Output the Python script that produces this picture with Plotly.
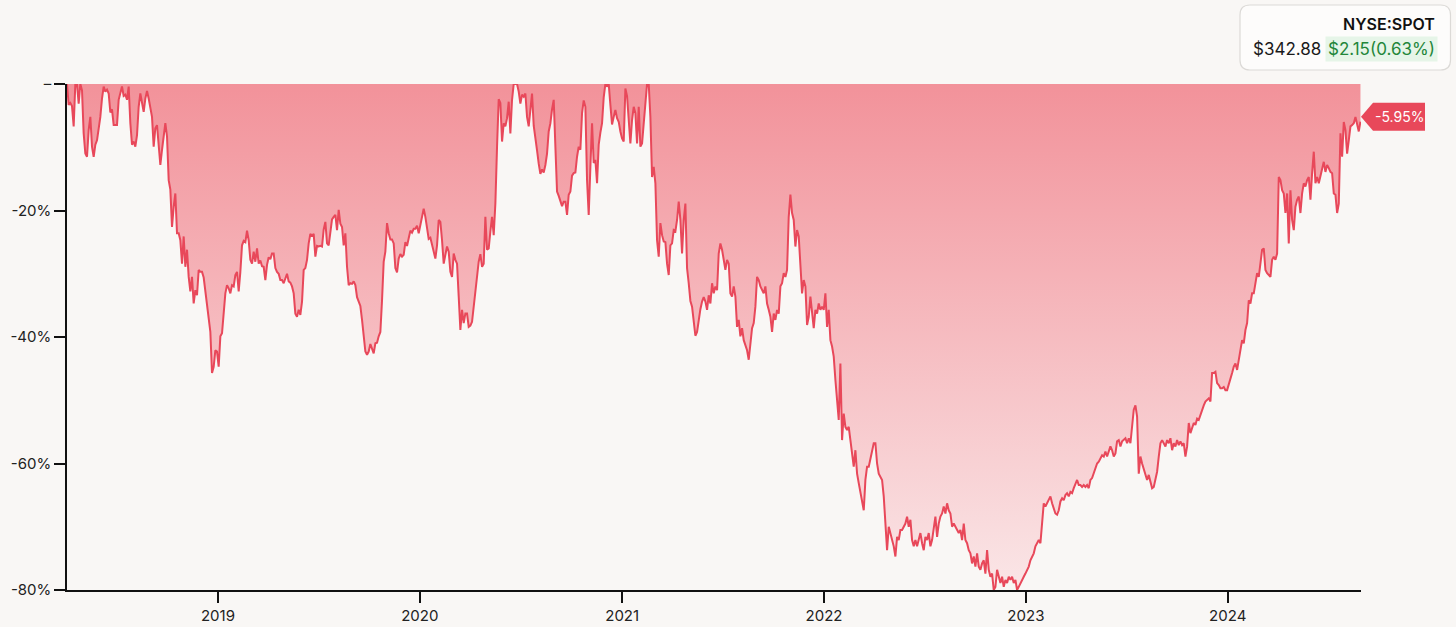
import pandas as pd
import plotly.graph_objects as go

# ---------------- data ----------------
ticker = "NYSE:SPOT"
last_price = "$342.88"
day_change = "$2.15(0.63%)"
last_drawdown_label = "-5.95%"
start_date = "2018-04-03"
end_date = "2024-08-28"

# drawdown from running peak, in percent (~every 3 days)
dd_part1 = [
    0, -3.3, -3.0, -3.5, -6.7, 0, 0, -3.1, 0, -1.0,
    -7.8, -11.0, -11.5, -7.3, -5.2, -9.9, -11.5, -9.6, -8.9, -7.3,
    -5.2, -2.3, -0.4, -1.2, -0.9, -1.5, -4.5, -4.0, -6.5, -6.5,
    -6.5, -2.5, -1.2, -0.4, -1.9, -1.7, -2.5, -0.4, -6.2, -9.6,
    -9.1, -9.9, -8.1, -3.6, -1.5, -3.1, -4.4, -2.3, -1.1, -2.3,
    -3.8, -5.2, -9.9, -7.0, -6.5, -9.9, -12.8, -10.4, -8.1, -6.2,
    -8.3, -15.2, -16.7, -22.6, -19.4, -17.3, -23.6, -23.6, -24.7, -28.4,
    -24.1, -28.9, -26.2, -30.5, -32.8, -30.5, -34.7, -32.6, -33.4, -29.4,
    -29.7, -29.7, -30.6, -32.6, -35.0, -36.9, -39.2, -45.7, -44.7, -42.1,
    -42.3, -44.7, -39.9, -39.4, -36.8, -33.1, -31.8, -32.3, -33.1, -31.8,
    -32.0, -30.2, -29.7, -32.8, -29.7, -25.5, -24.8, -25.0, -23.2, -24.7,
    -27.8, -28.4, -26.5, -28.1, -26.0, -28.4, -27.9, -28.8, -28.9, -31.0,
    -28.6, -27.4, -27.7, -26.8, -26.8, -29.1, -29.7, -30.0, -31.0, -31.0,
    -31.5, -30.7, -30.0, -31.2, -31.4, -32.0, -33.1, -36.3, -36.8, -35.7,
    -36.5, -34.4, -29.4, -29.1, -27.8, -25.2, -23.7, -24.0, -23.7, -27.3,
    -25.6, -25.7, -25.6, -25.7, -23.0, -21.8, -25.2, -25.5, -23.1, -21.4,
    -21.0, -20.7, -23.1, -19.9, -22.1, -22.6, -25.5, -23.6, -28.9, -31.8,
    -31.5, -31.6, -31.2, -31.8, -33.7, -34.4, -35.1, -37.3, -39.7, -42.3,
    -42.8, -42.3, -41.1, -41.8, -42.6, -41.0, -40.9, -39.9, -39.2, -34.2,
    -28.1,
]
dd_part2 = [
    -26.5, -22.0, -23.6, -24.6, -24.6, -25.2, -29.1, -29.8, -27.6, -26.9,
    -27.3, -27.0, -25.0, -25.6, -24.4, -23.2, -23.5, -22.9, -22.9, -22.4,
    -23.6, -22.3, -21.0, -19.7, -21.0, -23.2, -24.5, -24.3, -25.2, -26.5,
    -27.6, -25.5, -21.5, -21.8, -24.7, -28.4, -27.0, -25.7, -26.5, -29.7,
    -30.5, -26.8, -27.8, -28.4, -33.6, -38.9, -35.7, -37.8, -36.3, -36.3,
    -38.4, -38.2, -37.6, -35.1, -33.6, -31.0, -28.1, -26.9, -28.9, -28.4,
    -21.0, -26.2, -26.0, -23.3, -21.0, -23.9, -18.9, -9.9, -2.4, -3.0,
    -9.1, -6.2, -6.7, -5.4, -2.8, -7.8, -2.5, 0, 0, 0,
    -1.2, -3.1, -1.7, -2.0, -1.5, -5.2, -6.7, -4.1, -1.5, -6.6,
    -8.3, -10.5, -12.6, -14.2, -13.5, -14.0, -12.8, -11.0, -7.5, -6.2,
    -4.0, -2.5, -9.9, -17.0, -17.7, -18.5, -19.3, -18.6, -18.6, -20.7,
    -17.5, -17.0, -14.5, -14.1, -14.0, -11.5, -9.9, -10.4, -4.6, -2.6,
    -3.6, -15.2, -20.7, -13.1, -6.2, -12.5, -12.0, -15.7, -9.6, -7.7,
    -6.2, -2.1, 0, -0.3, 0, -3.3, -6.4, -5.2, -4.1, -5.4,
    -6.0, -7.5, -8.6, -9.1, -0.7, -1.9, -5.2, -9.4, -5.7, -3.6,
    -4.6, -9.4, -3.6, -9.9, -9.4, -6.2, -4.1, 0, 0, -5.2,
    -14.7, -13.1, -15.7, -24.7, -27.3, -22.0, -23.9, -24.9, -25.0, -28.4,
    -30.2, -25.5, -25.2, -23.1, -23.3, -21.5, -18.6, -21.5, -26.8, -21.5,
    -18.9, -29.1, -31.5, -34.3, -35.2, -37.8, -39.8, -39.2, -37.1, -35.6,
    -34.4, -33.7, -34.4, -35.7, -33.4,
]
dd_part3 = [
    -34.7, -31.5, -33.1, -32.0, -32.6, -26.8, -25.2, -26.2, -27.8, -29.4,
    -27.8, -28.4, -33.1, -33.6, -32.0, -33.6, -38.4, -37.3, -39.9, -38.6,
    -40.5, -41.5, -42.1, -43.6, -40.5, -38.6, -37.8, -35.2, -30.5, -31.0,
    -32.0, -32.6, -33.1, -32.0, -34.7, -35.7, -36.8, -39.2, -36.3, -37.3,
    -35.7, -36.3, -32.0, -31.5, -29.9, -30.5, -29.4, -21.0, -17.5, -20.4,
    -21.5, -25.7, -23.1, -24.1, -27.8, -33.1, -31.0, -32.0, -38.1, -36.8,
    -33.6, -36.3, -38.6, -35.7, -36.3, -34.7, -35.7, -35.2, -35.7, -33.1,
    -38.4, -35.7, -40.5, -41.5, -43.1, -46.8, -49.4, -53.1, -44.2, -56.3,
    -52.1, -54.2, -54.7, -54.2, -56.3, -58.4, -60.5, -57.9, -61.6, -63.1,
    -64.7, -65.8, -67.4, -62.6, -60.5, -60.5, -59.4, -58.4, -56.8, -56.8,
    -60.0, -61.6, -62.1, -62.6, -65.2, -69.5, -73.7, -70.0, -71.0, -72.1,
    -73.1, -74.7, -71.6, -72.1, -70.5, -70.5, -70.0, -69.5, -68.4, -70.0,
    -68.9, -72.1, -73.1, -72.1, -73.1, -72.1, -71.0, -72.6, -73.7, -71.6,
    -72.1, -71.0, -73.1, -72.1, -70.5, -68.4, -71.6, -69.5, -68.4, -67.9,
    -66.8, -67.9, -66.3, -67.4, -67.9, -70.0, -69.5, -70.0, -70.5, -71.0,
    -70.5, -72.1, -69.5, -72.1, -72.6, -73.7, -74.2, -75.8, -74.7, -76.3,
    -74.2, -76.3, -76.8, -75.8, -75.3, -77.4, -73.7, -76.8, -77.9, -77.4,
    -80.0, -79.5, -76.8, -77.9, -78.9, -77.9, -79.5, -78.4, -78.9, -77.9,
    -78.4, -77.9, -78.9, -78.4, -80.0, -79.5, -78.9, -78.4, -77.9, -77.4,
    -76.8, -76.3,
]
dd_part4 = [
    -75.3, -74.7, -74.2, -73.1, -72.6, -72.1, -72.6, -69.5, -66.3, -66.8,
    -66.3, -65.8, -65.2, -66.3, -67.1, -67.9, -68.1, -67.4, -66.0, -65.5,
    -65.8, -65.0, -64.7, -65.2, -64.5, -64.7, -63.9, -63.1, -62.6, -63.4,
    -63.4, -63.7, -63.4, -63.7, -63.4, -63.9, -62.6, -62.3, -61.6, -60.8,
    -60.0, -59.7, -59.2, -58.7, -58.9, -58.1, -58.9, -57.9, -57.3, -57.9,
    -58.9, -58.4, -56.5, -56.3, -57.3, -56.5, -56.3, -56.0, -56.8, -56.0,
    -56.8, -53.9, -51.5, -50.8, -52.6, -61.6, -58.9, -60.0, -60.8, -61.6,
    -62.6, -61.8, -63.1, -63.9, -63.7, -62.3, -61.3, -58.9, -56.8, -56.3,
    -56.8, -57.3, -56.3, -56.8, -56.0, -57.9, -56.8, -57.3, -56.3, -57.1,
    -56.5, -57.1, -56.8, -58.9, -57.3, -53.6, -55.2, -54.2, -53.6, -53.9,
    -52.9, -53.1, -52.3, -51.3, -50.8, -50.2, -50.0, -49.7, -50.2, -45.7,
    -45.7, -45.5, -47.3, -47.6, -48.1, -48.1, -47.9, -48.4, -48.4, -47.6,
    -46.8, -45.7, -44.7, -44.2, -45.2, -43.6, -41.5, -40.5, -41.0, -38.9,
    -37.8, -34.2, -34.7, -33.1, -33.1, -31.5, -29.9, -30.5, -28.4, -26.2,
    -26.0, -29.4, -29.9, -30.2, -30.5, -27.8, -27.3, -27.8, -26.8, -14.7,
    -15.2, -16.8, -17.3, -20.4, -17.3, -25.2, -16.8, -21.5, -23.1, -19.4,
    -18.3, -17.8, -20.4, -17.3, -15.7, -16.2, -15.2, -14.7, -18.3, -14.1,
    -10.7, -15.7, -14.7, -15.7, -14.4, -13.6, -12.3, -13.9, -12.8, -13.3,
    -13.9, -14.1, -17.3, -17.5, -20.4, -18.9, -7.8, -11.5, -6.0, -7.3,
    -11.0, -8.9, -6.7, -6.5, -6.2, -5.2, -6.2, -7.5, -5.95,
]
drawdown = dd_part1 + dd_part2 + dd_part3 + dd_part4
dates = pd.date_range(start_date, end_date, periods=len(drawdown))

y_tick_values = [0, -20, -40, -60, -80]
y_tick_labels = ["\u2013", "-20%", "-40%", "-60%", "-80%"]
x_tick_values = ["2019-01-01", "2020-01-01", "2021-01-01", "2022-01-01", "2023-01-01", "2024-01-01"]
x_tick_labels = ["2019", "2020", "2021", "2022", "2023", "2024"]

# ---------------- style ----------------
W, H = 1456, 627
ML, MR, MT, MB = 67, 95, 84, 37
BG = "#f9f7f5"
RED = "#e8485a"
FONT = "Inter"

def px(xp):
    return (xp - ML) / (W - ML - MR)

def py(yp):
    return (H - MB - yp) / (H - MT - MB)

fig = go.Figure()
fig.add_trace(go.Scatter(
    x=dates, y=drawdown, mode="lines",
    line=dict(color=RED, width=2),
    fill="tozeroy",
    fillgradient=dict(type="vertical", colorscale=[[0, "#fae6e7"], [1, "#f2929a"]],
                      start=-80, stop=0),
    hoverinfo="skip",
))

fig.update_layout(
    width=W, height=H,
    margin=dict(l=ML, r=MR, t=MT, b=MB, autoexpand=False),
    paper_bgcolor=BG, plot_bgcolor=BG,
    showlegend=False,
    font=dict(family=FONT, size=14, color="#222222"),
)
fig.update_xaxes(
    type="date", range=[start_date, "2024-08-29"], automargin=False,
    showline=True, linecolor="#111111", linewidth=1.5,
    ticks="outside", ticklen=11, tickwidth=1.5, tickcolor="#111111",
    tickvals=x_tick_values, ticktext=x_tick_labels,
    showgrid=False, zeroline=False, tickfont=dict(size=15, color="#222222"),
)
fig.update_yaxes(
    range=[-80, 0], automargin=False,
    showline=True, linecolor="#111111", linewidth=1.5,
    ticks="outside", ticklen=11, tickwidth=1.5, tickcolor="#111111",
    tickvals=y_tick_values, ticktext=y_tick_labels,
    showgrid=False, zeroline=False, tickfont=dict(size=15, color="#222222"),
)

# info box (top right)
x0, x1, y0, y1 = px(1240), px(1450.5), py(70), py(5)
rx, ry = 10 / (W - ML - MR), 10 / (H - MT - MB)
box_path = (f"M {x0+rx},{y1} L {x1-rx},{y1} Q {x1},{y1} {x1},{y1-ry} "
            f"L {x1},{y0+ry} Q {x1},{y0} {x1-rx},{y0} L {x0+rx},{y0} "
            f"Q {x0},{y0} {x0},{y0+ry} L {x0},{y1-ry} Q {x0},{y1} {x0+rx},{y1} Z")
fig.add_shape(type="path", xref="paper", yref="paper", path=box_path,
              fillcolor="#fdfcfb", line=dict(color="#dcdad7", width=1.2), layer="above")

fig.add_annotation(xref="paper", yref="paper", x=px(1437), y=py(24), text=ticker,
                   showarrow=False, xanchor="right", yanchor="middle",
                   font=dict(family=FONT, size=16, color="#111111", weight=600))
fig.add_annotation(xref="paper", yref="paper", x=px(1251), y=py(49), text=last_price,
                   showarrow=False, xanchor="left", yanchor="middle",
                   font=dict(family=FONT, size=17, color="#1a1a1a"))
fig.add_annotation(xref="paper", yref="paper", x=px(1438), y=py(49), text=day_change,
                   showarrow=False, xanchor="right", yanchor="middle",
                   bgcolor="#e6f5e8", borderpad=2,
                   font=dict(family=FONT, size=17, color="#23863a"))

# last-value tag
tip_y = py(116.7)
top_y, bot_y = py(102.7), py(130.7)
tag_path = (f"M {px(1361)},{tip_y} L {px(1373)},{top_y} L {px(1425)},{top_y} "
            f"L {px(1425)},{bot_y} L {px(1373)},{bot_y} Z")
fig.add_shape(type="path", xref="paper", yref="paper", path=tag_path,
              fillcolor=RED, line=dict(width=0), layer="above")
fig.add_annotation(xref="paper", yref="paper", x=px(1399.5), y=tip_y, text=last_drawdown_label,
                   showarrow=False, xanchor="center", yanchor="middle",
                   font=dict(family=FONT, size=14, color="#ffffff"))

fig.write_html("out.html", config={"displayModeBar": False},
               post_script="document.body.style.margin='0';")
